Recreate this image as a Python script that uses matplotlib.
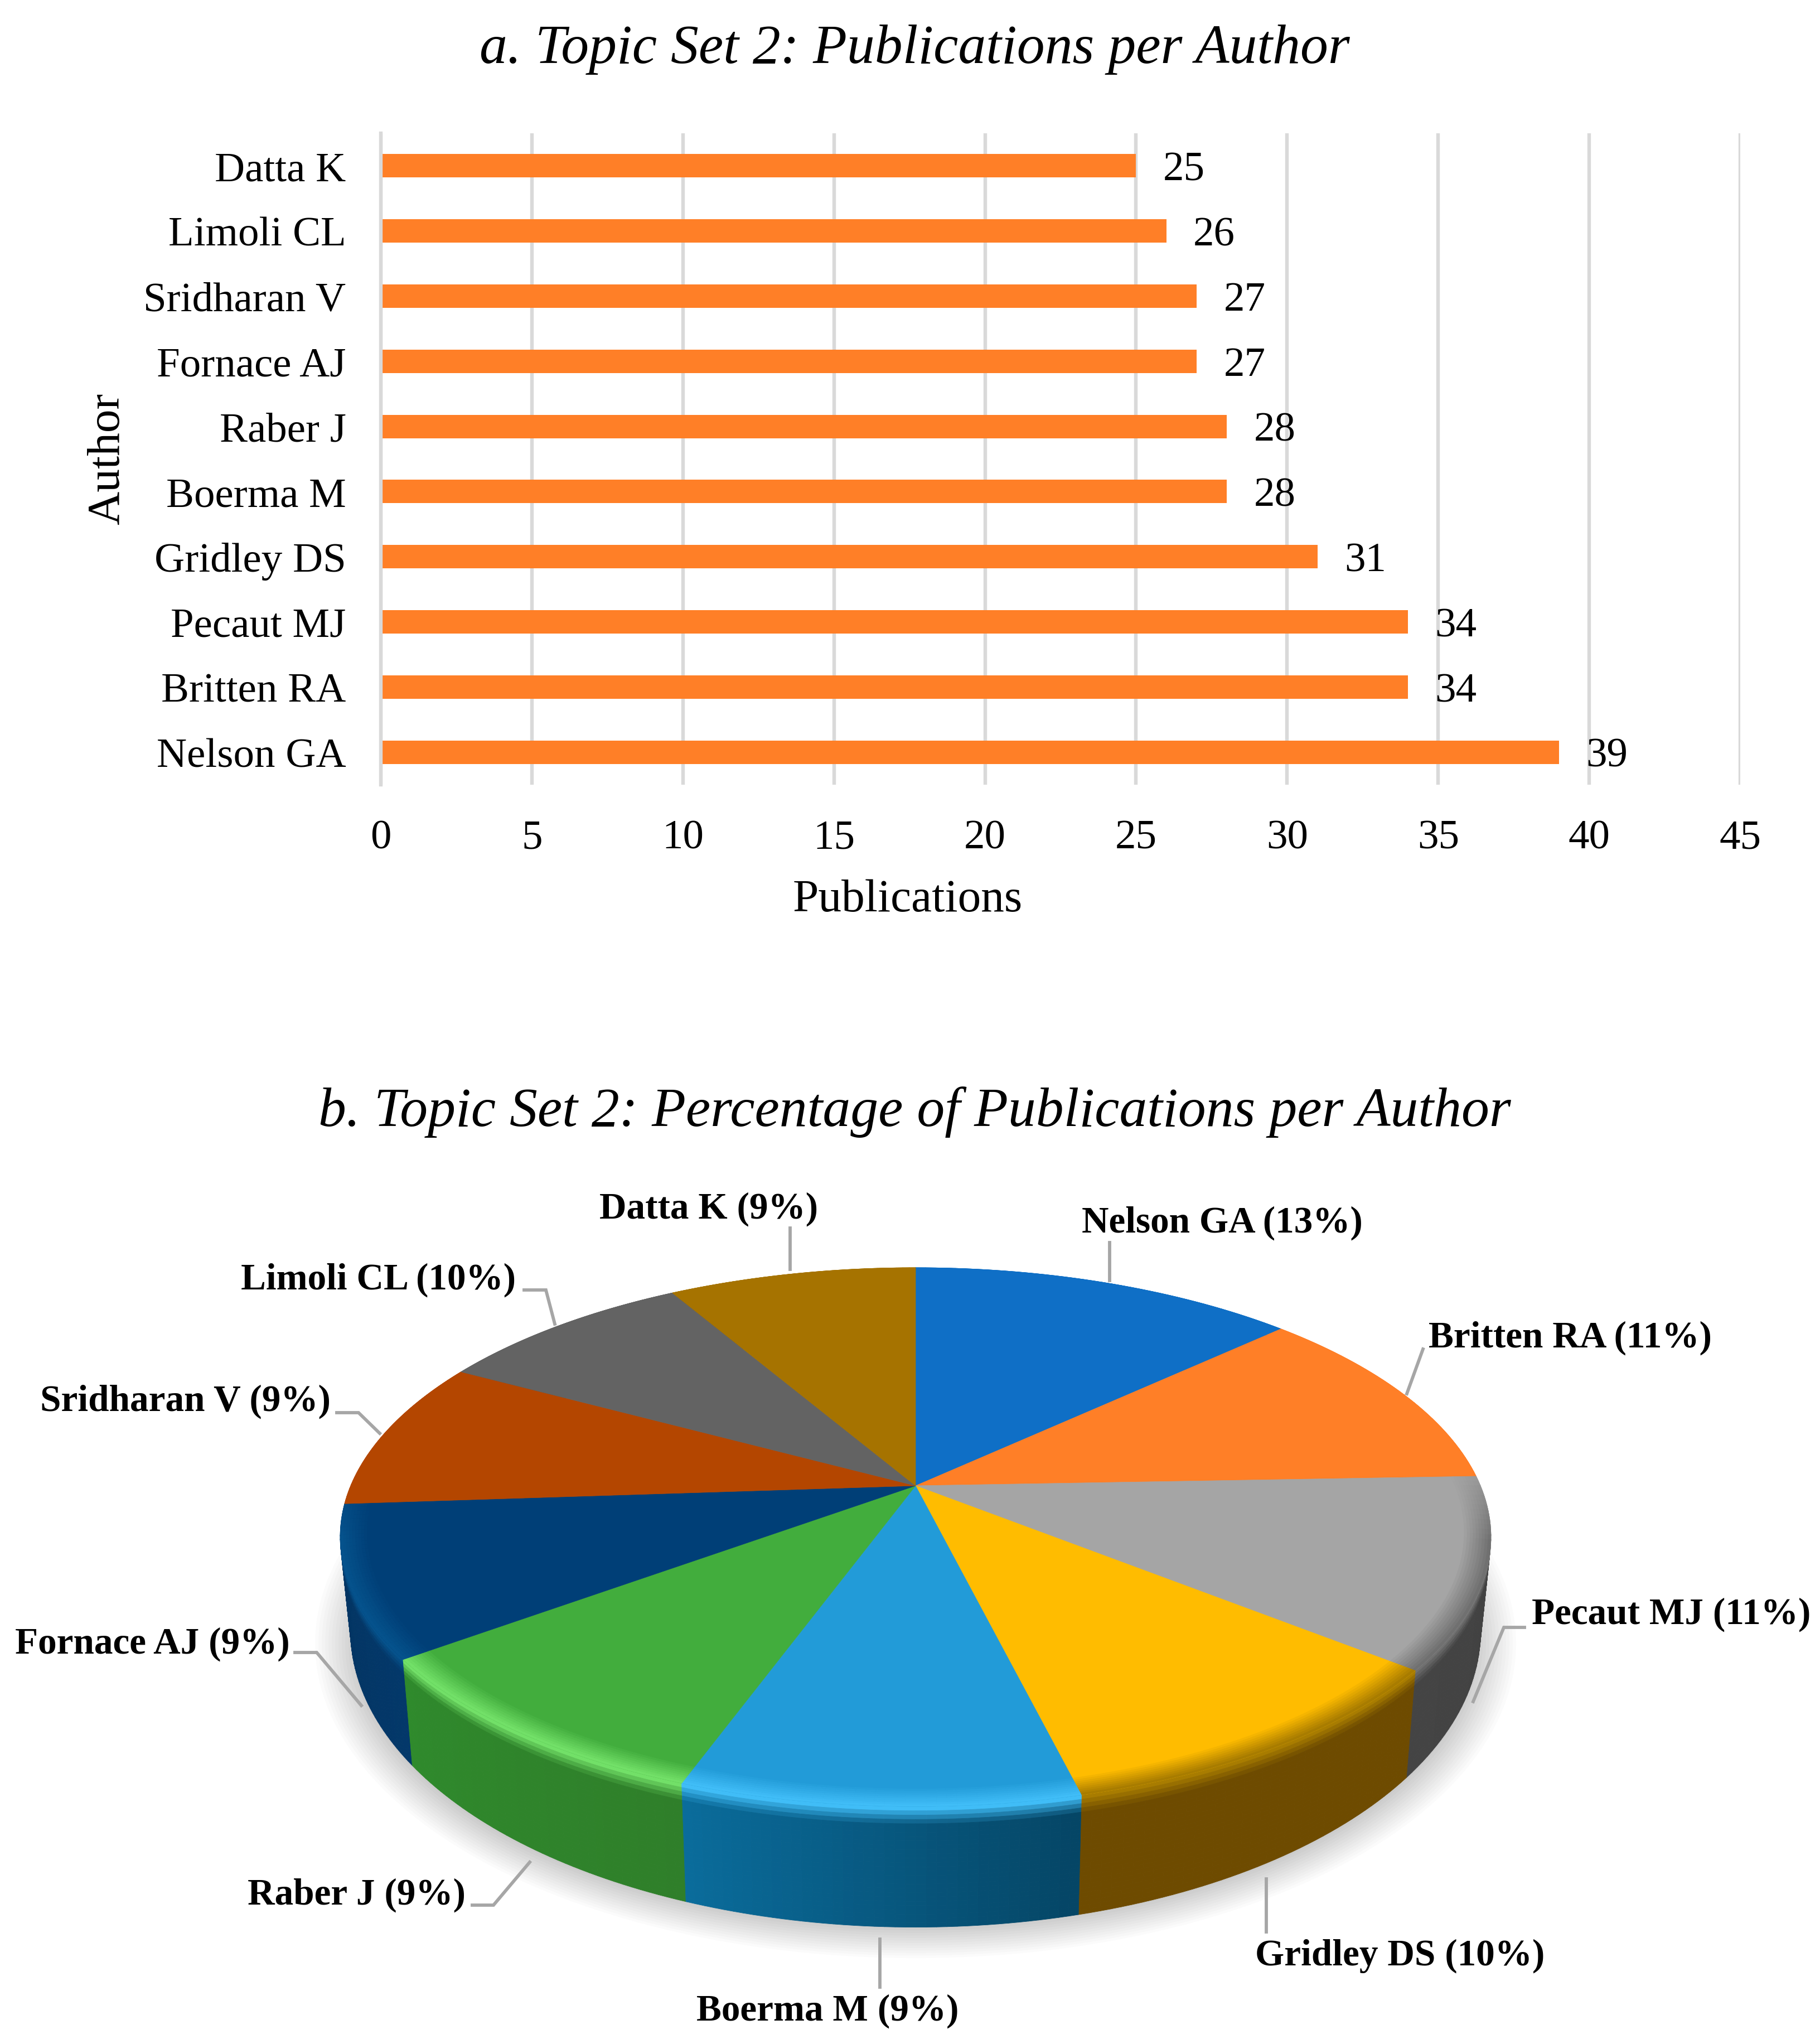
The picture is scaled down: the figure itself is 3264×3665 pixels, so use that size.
import numpy as np
import matplotlib
matplotlib.use("Agg")
import matplotlib.pyplot as plt
from matplotlib.collections import PolyCollection
from matplotlib.colors import to_rgb

plt.rcParams['font.family'] = ['Liberation Serif', 'DejaVu Serif']

authors = ["Nelson GA", "Britten RA", "Pecaut MJ", "Gridley DS", "Boerma M",
           "Raber J", "Fornace AJ", "Sridharan V", "Limoli CL", "Datta K"]
publications = [39, 34, 34, 31, 28, 28, 27, 27, 26, 25]
percent_labels = [13, 11, 11, 10, 9, 9, 9, 9, 10, 9]
x_ticks = [0, 5, 10, 15, 20, 25, 30, 35, 40, 45]

top_colors = ["#0F6FC6", "#FF7F27", "#A5A5A5", "#FFBC00", "#229BD8",
              "#42AD3D", "#003F77", "#B44600", "#636363", "#A67300"]
wall_left = ["#0A4F8C", "#B85A1A", "#444444", "#6E4B00", "#0A6C9C",
             "#2F8A2C", "#02335F", "#7F3100", "#444444", "#6E4B00"]
wall_right = ["#0A4F8C", "#B85A1A", "#404040", "#6E4B00", "#054565",
              "#2F7F2A", "#03386A", "#7F3100", "#444444", "#6E4B00"]
bevel_colors = ["#0F6FC6", "#FF7F27", "#707070", "#A87C00", "#40BDF7",
                "#72E068", "#05528C", "#B44600", "#636363", "#A67300"]

W, H = 3264, 3666
fig = plt.figure(figsize=(W / 100, H / 100), dpi=100, facecolor="white")

# a. bars
ax = fig.add_axes([683 / W, 1 - 1408 / H, 2438 / W, 1168 / H])
ax.barh(authors, publications, height=0.36, color="#FF7F27", zorder=2)
ax.set_xlim(0, 45)
ax.set_ylim(-0.5, 9.5)
ax.set_xticks(x_ticks)
ax.grid(axis="x", color="#D9D9D9", lw=4.6, zorder=0)
ax.grid(axis="y", visible=False)
ax.set_axisbelow(True)
for s in ["top", "right", "bottom"]:
    ax.spines[s].set_visible(False)
ax.spines["left"].set_color("#D9D9D9")
ax.spines["left"].set_linewidth(4.6)
ax.tick_params(length=0, labelsize=54, pad=45)
for i, v in enumerate(publications):
    ax.annotate(str(v), (v, i), xytext=(35, -5.4), textcoords="offset points",
                va="center", ha="left", fontsize=54)
ax.set_xlabel("Publications", fontsize=60)
ax.xaxis.set_label_coords(0.3874, -0.177)
ax.xaxis.label.set_va("center")
ax.set_ylabel("Author", fontsize=60)
ax.yaxis.set_label_coords(-0.201, 0.501)
ax.yaxis.label.set_va("center")

fig.text(1640 / W, 1 - 89 / H, "a. Topic Set 2: Publications per Author",
         ha="center", va="center", fontsize=71.8, style="italic")
fig.text(1640 / W, 1 - 1994 / H, "b. Topic Set 2: Percentage of Publications per Author",
         ha="center", va="center", fontsize=71.8, style="italic")

# b. pie in perspective, pixel coordinates
pie = fig.add_axes([0, 0, 1, 1], facecolor="none")
pie.set_xlim(0, W)
pie.set_ylim(H, 0)
pie.axis("off")

cx, cy = 1642, 2665
a, b = 1013, 465.5
k = 0.1905


def project(ang, r=1.0):
    # ang is clockwise from 12 o'clock, result is in image directions
    xx, yy = r * np.sin(ang), r * np.cos(ang)
    w = 1 + k * yy
    return a * xx / w, -b * yy / w, yy


def mix(c1, c2, t):
    return tuple((1 - t) * p + t * q for p, q in zip(c1, c2))


cum = np.cumsum([0] + publications) / sum(publications) * 2 * np.pi

# soft shadow under the disc
tt = np.linspace(0, 2 * np.pi, 200)
for i in range(16):
    grow = 72 - i * 6
    pie.fill(cx + (1005 + grow) * np.cos(tt), 2948 + (510 + grow * 0.75) * np.sin(tt),
             color="black", alpha=0.014, lw=0, zorder=1)

# side wall, drawn as small quads from back to front
levels = np.linspace(0, 1, 29)
quads, cols, depth = [], [], []
for i in range(len(publications)):
    arc = np.linspace(cum[i], cum[i + 1], 40)
    bev = to_rgb(bevel_colors[i])
    wl, wr = to_rgb(wall_left[i]), to_rgb(wall_right[i])
    for j in range(len(arc) - 1):
        x1, y1, d1 = project(arc[j])
        x2, y2, d2 = project(arc[j + 1])
        # clockwise along the front runs right to left
        wall = mix(wr, wl, (j + 0.5) / (len(arc) - 1))
        for n in range(len(levels) - 1):
            t0, t1 = levels[n], levels[n + 1]
            pts = []
            for xx, yy, t in [(x1, y1, t0), (x2, y2, t0), (x2, y2, t1), (x1, y1, t1)]:
                px = cx + xx * (1 - 0.018 * t)
                py = cy + yy + t * ((2824 + 1.1 * yy) - (cy + yy))
                pts.append((px, py))
            c = mix(bev, wall, t0 / 0.13) if t0 < 0.13 else wall
            quads.append(pts)
            cols.append(c)
            depth.append(d1 + d2 - t0 * 1e-3)
order = np.argsort(depth)[::-1]
pie.add_collection(PolyCollection([quads[q] for q in order], facecolors=[cols[q] for q in order],
                                  edgecolors=[cols[q] for q in order], linewidths=0.6, zorder=2))

# top faces
for i in range(len(publications)):
    arc = np.linspace(cum[i], cum[i + 1], 80)
    x, y, _ = project(arc)
    pie.fill(np.r_[cx, cx + x], np.r_[cy, cy + y], color=top_colors[i], lw=0.5, zorder=3)

# rim blending towards the bevel on the front of the top face
radii = np.linspace(0.955, 1.0, 10)
rim, rim_cols = [], []
for i in range(len(publications)):
    arc = np.linspace(cum[i], cum[i + 1], 40)
    top, bev = to_rgb(top_colors[i]), to_rgb(bevel_colors[i])
    for j in range(len(arc) - 1):
        for n in range(len(radii) - 1):
            x1, y1, d1 = project(arc[j], radii[n])
            x2, y2, _ = project(arc[j + 1], radii[n])
            x3, y3, _ = project(arc[j + 1], radii[n + 1])
            x4, y4, _ = project(arc[j], radii[n + 1])
            fade = np.clip((-d1 + 0.1) / 0.3, 0, 1)
            c = mix(top, bev, fade * (n + 1) / (len(radii) - 1))
            rim.append([(cx + x1, cy + y1), (cx + x2, cy + y2), (cx + x3, cy + y3), (cx + x4, cy + y4)])
            rim_cols.append(c)
pie.add_collection(PolyCollection(rim, facecolors=rim_cols, edgecolors=rim_cols, linewidths=0.5, zorder=4))

# labels and leader lines
label_xy = [(2192, 2193), (2816, 2399), (2997, 2895), (2511, 3507), (1484, 3606),
            (640, 3398), (273, 2948), (332, 2513), (679, 2295), (1271, 2168)]
leaders = [[(1990, 2229), (1990, 2297)],
           [(2552, 2420), (2523, 2500)],
           [(2734, 2919), (2697, 2919), (2642, 3052)],
           [(2271, 3370), (2271, 3465)],
           [(1578, 3478), (1578, 3564)],
           [(847, 3417), (885, 3417), (950, 3340)],
           [(529, 2964), (568, 2964), (648, 3059)],
           [(604, 2534), (643, 2534), (681, 2571)],
           [(940, 2314), (979, 2314), (995, 2375)],
           [(1417, 2203), (1417, 2277)]]
for name, pct, (lx, ly), line in zip(authors, percent_labels, label_xy, leaders):
    pie.text(lx, ly, f"{name} ({pct}%)", ha="center", va="center", fontsize=48.4,
             fontweight="bold", zorder=6)
    lxs, lys = zip(*line)
    pie.plot(lxs, lys, color="#A6A6A6", lw=4.2, solid_joinstyle="miter", zorder=5)

fig.savefig("out.png", dpi=100, facecolor="white")
